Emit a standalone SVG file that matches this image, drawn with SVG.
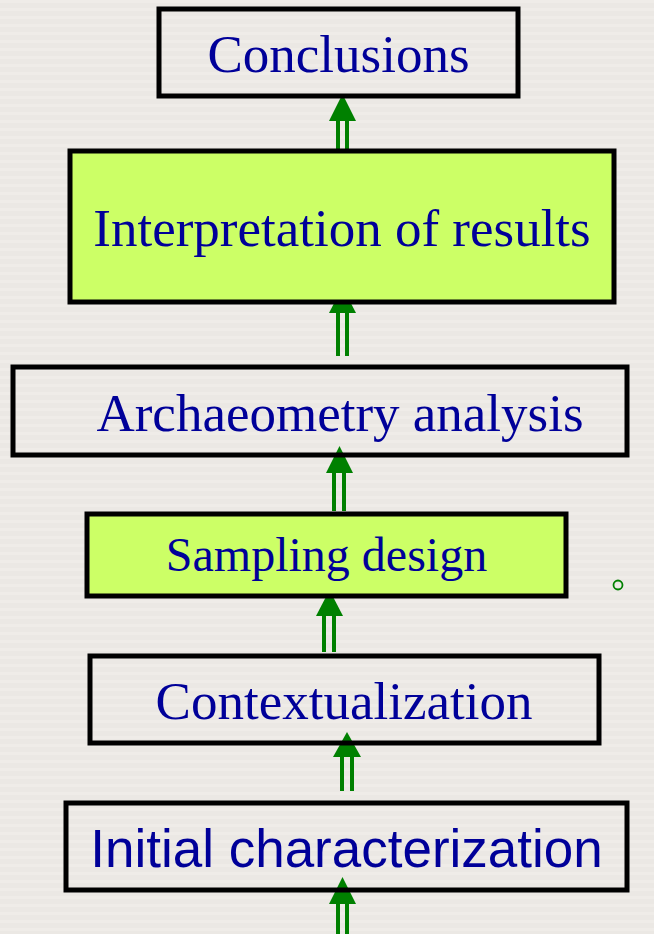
<svg xmlns="http://www.w3.org/2000/svg" width="654" height="934" viewBox="0 0 654 934">
  <defs>
    <pattern id="stripes" width="8" height="8" patternUnits="userSpaceOnUse">
      <rect width="8" height="8" fill="#ebe8e4"/>
      <rect y="0" width="8" height="3" fill="#efece8"/>
    </pattern>
  </defs>
  <style>
    .box { stroke: #000; stroke-width: 5; fill: none; }
    .hl { fill: #ccff66; }
    .serif { font-family: "Liberation Serif", "Times New Roman", serif; font-size: 53px; fill: #000099; text-anchor: middle; }
    .sans { font-family: "Liberation Sans", Arial, sans-serif; font-size: 53px; fill: #000099; text-anchor: middle; }
    .head { fill: #008000; }
    .shaft { fill: #008000; }
  </style>

  <rect width="654" height="934" fill="url(#stripes)"/>

  <g id="connectors">
    <!-- into Initial characterization from below -->
    <g>
      <rect class="shaft" x="336" y="903" width="4" height="31"/>
      <rect class="shaft" x="345" y="903" width="4" height="31"/>
      <polygon class="head" points="342.5,877 329,904 356,904"/>
    </g>
    <!-- Initial characterization -> Contextualization -->
    <g>
      <rect class="shaft" x="340" y="756" width="4" height="35"/>
      <rect class="shaft" x="350" y="756" width="4" height="35"/>
      <polygon class="head" points="347,732 333,757 361,757"/>
    </g>
    <!-- Contextualization -> Sampling design -->
    <g>
      <rect class="shaft" x="322" y="615" width="4" height="37"/>
      <rect class="shaft" x="332" y="615" width="4" height="37"/>
      <polygon class="head" points="329.5,590 316,616 343,616"/>
    </g>
    <!-- Sampling design -> Archaeometry analysis -->
    <g>
      <rect class="shaft" x="332" y="472" width="4" height="39"/>
      <rect class="shaft" x="342" y="472" width="4" height="39"/>
      <polygon class="head" points="339.5,446 326,473 353,473"/>
    </g>
    <!-- Archaeometry analysis -> Interpretation of results -->
    <g>
      <rect class="shaft" x="336" y="312" width="4" height="44"/>
      <rect class="shaft" x="345" y="312" width="4" height="44"/>
      <polygon class="head" points="342.5,287 329,313 356,313"/>
    </g>
    <!-- Interpretation of results -> Conclusions -->
    <g>
      <rect class="shaft" x="336" y="120" width="4" height="30"/>
      <rect class="shaft" x="345" y="120" width="4" height="30"/>
      <polygon class="head" points="342.5,94 329,121 356,121"/>
    </g>
  </g>

  <g id="conclusions">
    <rect class="box" x="159" y="9" width="359" height="87"/>
    <text class="serif" x="338.5" y="72">Conclusions</text>
  </g>

  <g id="interpretation">
    <rect class="box hl" x="70" y="151" width="544" height="151"/>
    <text class="serif" x="342" y="246">Interpretation of results</text>
  </g>

  <g id="archaeometry">
    <rect class="box" x="13" y="367" width="614" height="88"/>
    <text class="serif" x="340" y="431">Archaeometry analysis</text>
  </g>

  <g id="sampling">
    <rect class="box hl" x="87" y="514" width="479" height="82"/>
    <text class="serif" x="326.5" y="571" style="font-size:48px">Sampling design</text>
  </g>

  <g id="contextualization">
    <rect class="box" x="90" y="656" width="509" height="87"/>
    <text class="serif" x="344" y="719">Contextualization</text>
  </g>

  <g id="initial">
    <rect class="box" x="66" y="803" width="561" height="87"/>
    <text class="sans" x="346.5" y="867">Initial characterization</text>
  </g>

  <circle cx="618" cy="585" r="4.5" fill="none" stroke="#008000" stroke-width="1.8"/>
</svg>
